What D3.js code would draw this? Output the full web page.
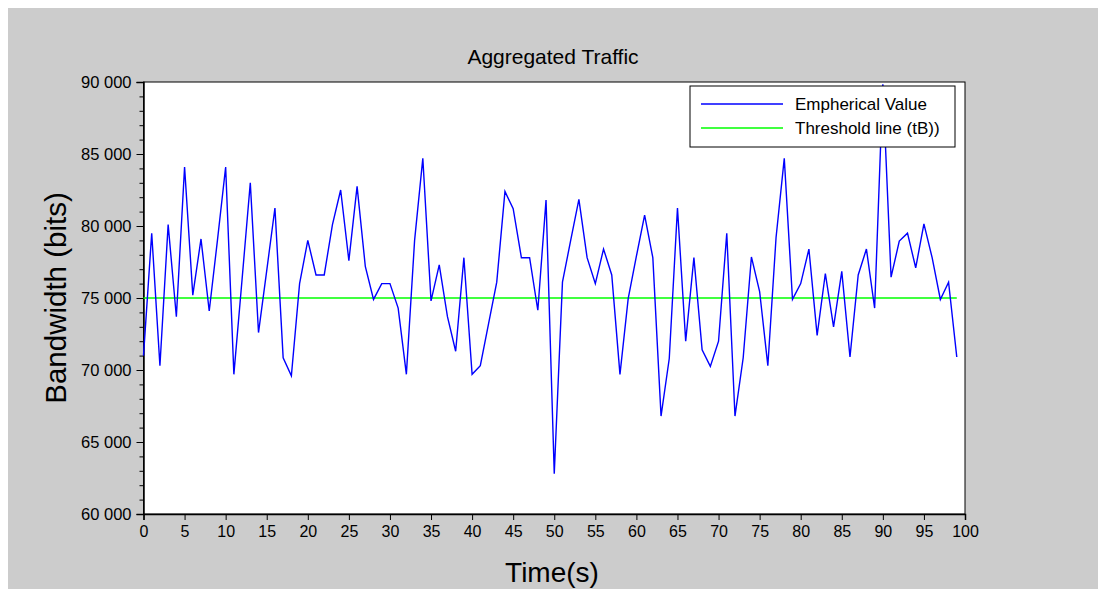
<!DOCTYPE html>
<html>
<head>
<meta charset="utf-8">
<script src="https://cdn.jsdelivr.net/npm/d3@7/dist/d3.min.js"></script>
<style>
  html, body { margin: 0; padding: 0; background: #ffffff; }
  svg { display: block; }
  text { font-family: "Liberation Sans", Arial, Helvetica, sans-serif; fill: #000; }
</style>
</head>
<body>
<svg id="chart" width="1098" height="589"></svg>
<script>
// Aggregated traffic per second (bits)
const bandwidth = [
  71000, 79500, 70300, 80100, 73700, 84100, 75200, 79100, 74100, 79000,
  84100, 69700, 76300, 83000, 72600, 76900, 81250, 70850, 69600, 76000,
  79000, 76600, 76600, 80100, 82500, 77600, 82750, 77200, 74900, 76000,
  76000, 74300, 69700, 79000, 84700, 74800, 77300, 73700, 71300, 77800,
  69700, 70300, 73200, 76100, 82400, 81200, 77800, 77800, 74150, 81800,
  62800, 76100, 79000, 81850, 77800, 76000, 78400, 76600, 69700, 74950,
  77900, 80750, 77800, 66800, 70800, 81250, 72000, 77800, 71400, 70250,
  72000, 79500, 66800, 70850, 77850, 75450, 70300, 79200, 84700, 74900,
  76000, 78400, 72400, 76700, 73000, 76850, 70900, 76600, 78400, 74300,
  89850, 76450, 78950, 79500, 77100, 80150, 77800, 74900, 76100, 70900
];
const times = d3.range(bandwidth.length);   // one sample per second
const threshold = 75000;                     // tB

const xTicks = [0, 5, 10, 15, 20, 25, 30, 35, 40, 45, 50, 55, 60, 65, 70, 75, 80, 85, 90, 95, 100];
const yTicks = [60000, 65000, 70000, 75000, 80000, 85000, 90000];
const yMinorTicks = d3.range(60000, 90001, 1000);

const seriesNames = ["Empherical Value", "Threshold line (tB))"];
const seriesColors = ["#0000ff", "#00ff00"];

const svg = d3.select("#chart");
const W = 1098, H = 589;
const plot = { left: 143.5, right: 965, top: 82, bottom: 514 };

// figure background
svg.append("rect").attr("x", 8).attr("y", 8).attr("width", W - 8).attr("height", H - 8).attr("fill", "#cccccc");

const x = d3.scaleLinear().domain([0, 100]).range([plot.left, plot.right]);
const y = d3.scaleLinear().domain([60000, 90000]).range([plot.bottom, plot.top]);

// plot area
svg.append("rect")
  .attr("x", plot.left).attr("y", plot.top)
  .attr("width", plot.right - plot.left).attr("height", plot.bottom - plot.top)
  .attr("fill", "#ffffff").attr("stroke", "#000").attr("stroke-width", 1);

const fmt = v => d3.format(",")(v).replace(/,/g, " ");

// y axis: minor ticks
svg.append("g")
  .attr("transform", `translate(${plot.left},0)`)
  .call(d3.axisLeft(y).tickValues(yMinorTicks).tickSize(4).tickFormat(""))
  .call(g => g.select(".domain").remove());

// y axis: major ticks with labels
svg.append("g")
  .attr("transform", `translate(${plot.left},0)`)
  .call(d3.axisLeft(y).tickValues(yTicks).tickSize(7).tickPadding(5).tickFormat(fmt))
  .call(g => g.select(".domain").attr("stroke-width", 1.5))
  .call(g => g.selectAll("text").attr("font-size", 16.5).style("font-family", "'Liberation Sans', Arial, sans-serif"));

// x axis
svg.append("g")
  .attr("transform", `translate(0,${plot.bottom})`)
  .call(d3.axisBottom(x).tickValues(xTicks).tickSize(6).tickPadding(6).tickFormat(d3.format("d")))
  .call(g => g.select(".domain").attr("stroke-width", 1.5))
  .call(g => g.selectAll("text").attr("font-size", 16).style("font-family", "'Liberation Sans', Arial, sans-serif"));

// threshold line
svg.append("line")
  .attr("x1", x(times[0])).attr("x2", x(times[times.length - 1]))
  .attr("y1", y(threshold)).attr("y2", y(threshold))
  .attr("stroke", seriesColors[1]).attr("stroke-width", 1.3);

// measured traffic
const line = d3.line().x((d, i) => x(times[i])).y(d => y(d));
svg.append("path")
  .datum(bandwidth)
  .attr("d", line)
  .attr("fill", "none")
  .attr("stroke", seriesColors[0])
  .attr("stroke-width", 1.4)
  .attr("stroke-linejoin", "miter");

// titles
svg.append("text")
  .attr("x", 553).attr("y", 64)
  .attr("text-anchor", "middle").attr("font-size", 21)
  .text("Aggregated Traffic");

svg.append("text")
  .attr("x", 552).attr("y", 582)
  .attr("text-anchor", "middle").attr("font-size", 28)
  .text("Time(s)");

svg.append("text")
  .attr("transform", `translate(66,${(plot.top + plot.bottom) / 2}) rotate(-90)`)
  .attr("text-anchor", "middle").attr("font-size", 29.5)
  .text("Bandwidth (bits)");

// legend
const legend = svg.append("g").attr("transform", "translate(690,86)");
legend.append("rect").attr("width", 265).attr("height", 61)
  .attr("fill", "#ffffff").attr("stroke", "#000").attr("stroke-width", 1);
seriesNames.forEach((name, i) => {
  const ly = 18 + i * 24;
  legend.append("line").attr("x1", 11).attr("x2", 93).attr("y1", ly).attr("y2", ly)
    .attr("stroke", seriesColors[i]).attr("stroke-width", 1.3);
  legend.append("text").attr("x", 105).attr("y", ly + 6).attr("font-size", 17).text(name);
});
</script>
</body>
</html>
